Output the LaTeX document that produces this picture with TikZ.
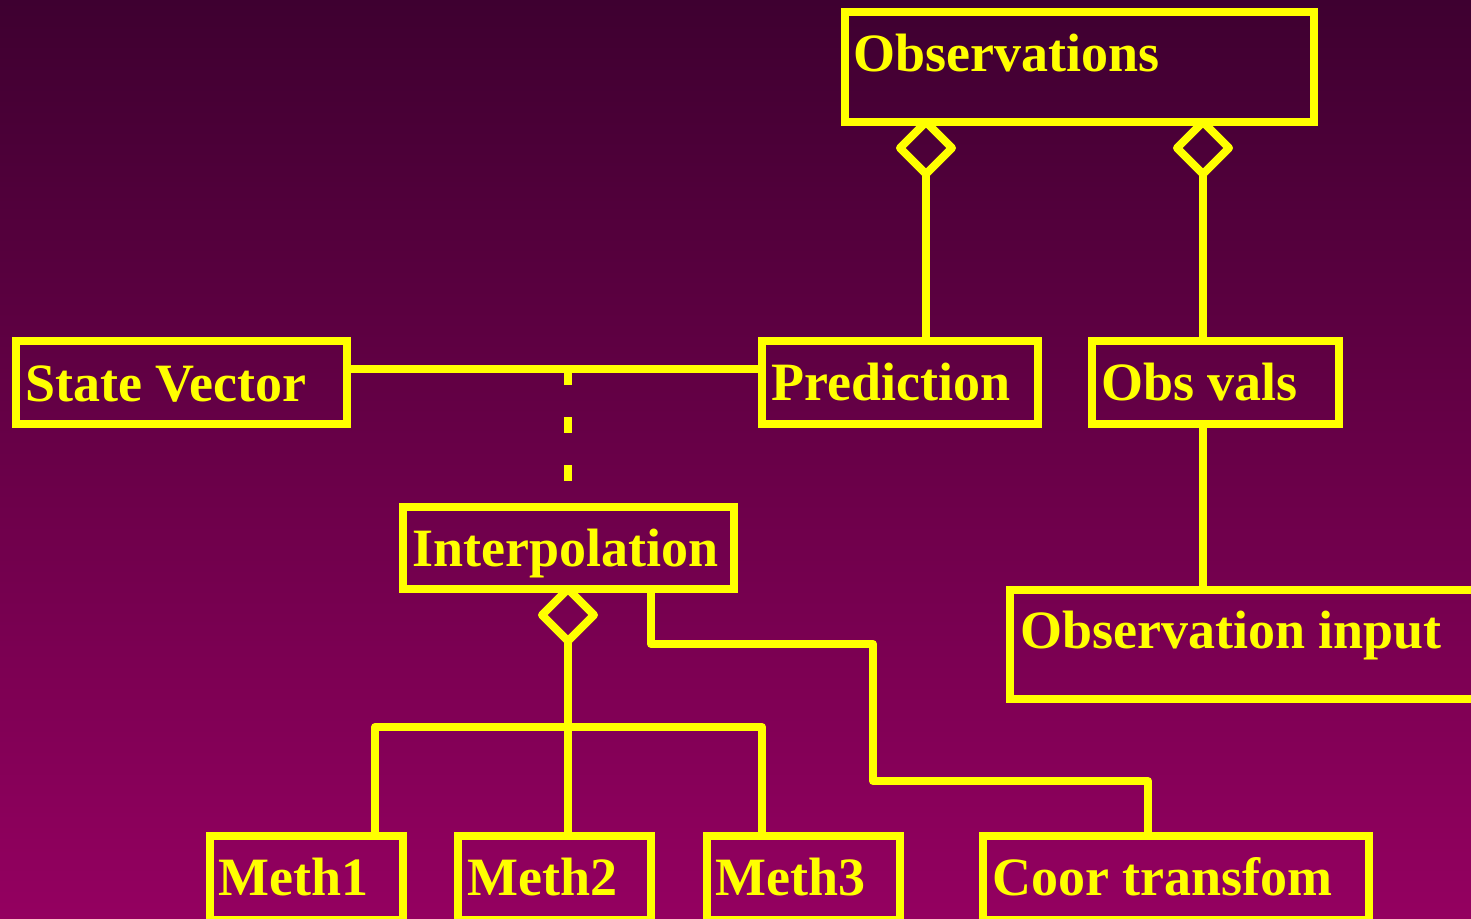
\documentclass[tikz,border=0pt]{standalone}
\usepackage{fontspec}
\setmainfont{Liberation Serif}
\usetikzlibrary{shapes.geometric}
\definecolor{bgtop}{RGB}{62,0,48}
\definecolor{bgbot}{RGB}{148,0,96}
\definecolor{umlyellow}{RGB}{255,255,0}
\begin{document}
\begin{tikzpicture}[x=1pt,y=-1pt,
  box/.style={draw=umlyellow, line width=8pt, rectangle, inner sep=0pt, outer sep=0pt, anchor=north west},
  lbl/.style={text=umlyellow, inner sep=0pt, anchor=base west, font=\fontsize{54}{60}\selectfont\bfseries},
  agg/.style={draw=umlyellow, line width=8pt, diamond, inner sep=0pt, outer sep=0pt, minimum width=52pt, minimum height=52pt, anchor=north, line join=round},
  conn/.style={draw=umlyellow, line width=8pt, line join=round},
  dep/.style={draw=umlyellow, line width=8pt, dash pattern=on 16pt off 32pt}]
\useasboundingbox (0,0) rectangle (1471,918);
\shade[top color=bgtop, bottom color=bgbot] (0,0) rectangle (1471,918);

% boxes and labels
\node[box, minimum width=469pt, minimum height=110pt] (obs) at (845,12) {};
\node[lbl] (obst) at (853,71) {Observations};
\node[box, minimum width=331pt, minimum height=83pt] (sv) at (16,341) {};
\node[lbl] (svt) at (25,401) {State Vector};
\node[box, minimum width=276pt, minimum height=83pt] (pred) at (762,341) {};
\node[lbl] (predt) at (771,400) {Prediction};
\node[box, minimum width=247pt, minimum height=83pt] (obsv) at (1092,341) {};
\node[lbl] (obsvt) at (1101,400) {Obs vals};
\node[box, minimum width=331pt, minimum height=82pt] (interp) at (403,507) {};
\node[lbl] (interpt) at (412,566) {Interpolation};
\node[box, minimum width=470pt, minimum height=109pt] (obsin) at (1010,590) {};
\node[lbl] (obsint) at (1020,648) {Observation input};
\node[box, minimum width=193.5pt, minimum height=84pt] (m1) at (209.5,836) {};
\node[lbl] (m1t) at (218,895) {Meth1};
\node[box, minimum width=193pt, minimum height=84pt] (m2) at (458,836) {};
\node[lbl] (m2t) at (467,895) {Meth2};
\node[box, minimum width=193pt, minimum height=84pt] (m3) at (707,836) {};
\node[lbl] (m3t) at (715,895) {Meth3};
\node[box, minimum width=386pt, minimum height=84pt] (coor) at (983,836) {};
\node[lbl] (coort) at (992,895) {Coor transfom};

% aggregation diamonds
\node[agg] (d1) at (926,122) {};
\node[agg] (d2) at (1203,122) {};
\node[agg] (d3) at (568,589) {};

% connectors
\coordinate (j1) at (568,369);
\draw[conn] (sv.east |- j1) -- (pred.west |- j1);
\draw[dep] (j1) -- (interp.north -| j1);
\draw[conn] (d1.south) -- (d1.south |- pred.north);
\draw[conn] (d2.south) -- (d2.south |- obsv.north);
\draw[conn] (obsv.south -| d2.south) -- (obsin.north -| d2.south);
\draw[conn] (d3.south) -- (d3.south |- m2.north);
\coordinate (b1) at (375,727);
\coordinate (b2) at (762,727);
\draw[conn] (b1 |- m1.north) -- (b1) -- (b2) -- (b2 |- m3.north);
\coordinate (c1) at (651,644);
\coordinate (c2) at (873,644);
\coordinate (c3) at (873,781);
\coordinate (c4) at (1148,781);
\draw[conn] (c1 |- interp.south) -- (c1) -- (c2) -- (c3) -- (c4) -- (c4 |- coor.north);
\end{tikzpicture}
\end{document}
